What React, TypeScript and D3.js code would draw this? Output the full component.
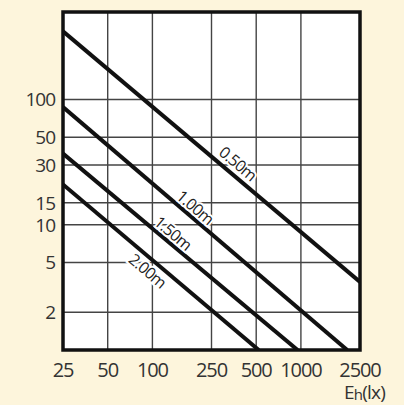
import * as d3 from 'd3';

// x: horizontal illuminance Eh (lx), y: value read on log axis
const xTicks = [25, 50, 100, 250, 500, 1000, 2500];
const yTicks = [2, 5, 10, 15, 30, 50, 100];

// each line: start / end point [Eh, value]
const heights = ['0.50m', '1.00m', '1.50m', '2.00m'];
const line050: [number, number][] = [[25, 350], [2500, 3.5]];
const line100: [number, number][] = [[25, 87], [2050, 1]];
const line150: [number, number][] = [[25, 37], [950, 1]];
const line200: [number, number][] = [[25, 21], [520, 1]];
const lines = [line050, line100, line150, line200];
// Eh at which each label sits, and which side of the line (neg = above)
const labelAt = [335, 176, 125, 104];
const labelSide = [-6, -4, -4, 17];

const W = 404;
const H = 405;
const margin = { top: 12, right: 44, bottom: 55, left: 63 };

export default function App() {
  const innerW = W - margin.left - margin.right;
  const innerH = H - margin.top - margin.bottom;

  const x = d3.scaleLog().domain([25, 2500]).range([0, innerW]);
  const y = d3.scaleLog().domain([1, 500]).range([innerH, 0]);

  const line = d3.line<[number, number]>()
    .x(d => x(d[0]))
    .y(d => y(d[1]));

  const font = "'Open Sans', 'DejaVu Sans', sans-serif";

  return (
    <div style={{ position: 'fixed', left: 0, top: 0, width: W, height: H, background: '#fdf5dc' }}>
      <svg width={W} height={H} style={{ display: 'block' }}>
        <defs>
          <clipPath id="plot">
            <rect x={0} y={0} width={innerW} height={innerH} />
          </clipPath>
        </defs>
        <g transform={`translate(${margin.left},${margin.top})`}>
          <rect x={0} y={0} width={innerW} height={innerH} fill="#ffffff" />

          {xTicks.slice(1, -1).map(t => (
            <line key={'gx' + t} x1={x(t)} x2={x(t)} y1={0} y2={innerH} stroke="#444" strokeWidth={1.4} />
          ))}
          {yTicks.map(t => (
            <line key={'gy' + t} x1={0} x2={innerW} y1={y(t)} y2={y(t)} stroke="#444" strokeWidth={1.4} />
          ))}

          <g clipPath="url(#plot)">
            {lines.map((pts, i) => (
              <path key={heights[i]} d={line(pts) || ''} fill="none" stroke="#111" strokeWidth={4} />
            ))}
          </g>

          {lines.map((pts, i) => {
            const [p0, p1] = pts;
            const ex = labelAt[i];
            // value on the line (straight on log-log)
            const t = Math.log(ex / p0[0]) / Math.log(p1[0] / p0[0]);
            const val = Math.exp(Math.log(p0[1]) + t * (Math.log(p1[1]) - Math.log(p0[1])));
            const px = x(ex);
            const py = y(val);
            const ang = (Math.atan2(y(p1[1]) - y(p0[1]), x(p1[0]) - x(p0[0])) * 180) / Math.PI;
            return (
              <text
                key={'lab' + i}
                transform={`translate(${px},${py}) rotate(${ang}) translate(0,${labelSide[i]})`}
                textAnchor="middle"
                fontFamily={font}
                fontSize={16}
                fill="#222"
                stroke="#ffffff"
                strokeWidth={4}
                paintOrder="stroke"
                letterSpacing={-0.7}
              >
                {heights[i]}
              </text>
            );
          })}

          <rect x={0} y={0} width={innerW} height={innerH} fill="none" stroke="#111" strokeWidth={3.5} />

          {yTicks.map(t => (
            <text
              key={'ty' + t}
              x={-8}
              y={y(t)}
              dy="0.36em"
              textAnchor="end"
              fontFamily={font}
              fontSize={19}
              fill="#333"
              letterSpacing={-1}
            >
              {t}
            </text>
          ))}
          {xTicks.map(t => (
            <text
              key={'tx' + t}
              x={x(t)}
              y={innerH + 27}
              textAnchor="middle"
              fontFamily={font}
              fontSize={20}
              fill="#333"
              letterSpacing={-1.1}
            >
              {t}
            </text>
          ))}
          <text x={innerW + 25} y={innerH + 49} textAnchor="end" fontFamily={font} fontSize={19} fill="#333" letterSpacing={-0.8}>
            E<tspan fontSize={15} dy={0.5}>h</tspan><tspan dy={-0.5}>(lx)</tspan>
          </text>
        </g>
      </svg>
    </div>
  );
}
